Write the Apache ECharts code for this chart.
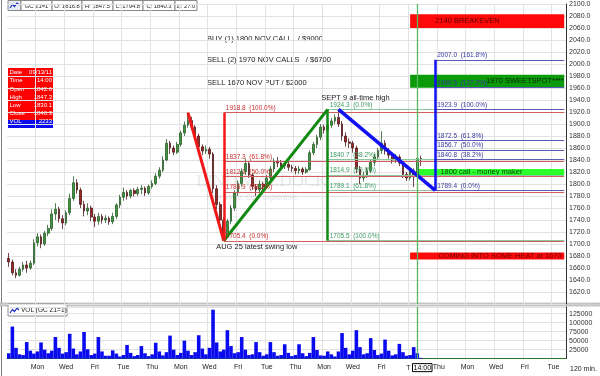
<!DOCTYPE html>
<html><head><meta charset="utf-8">
<script src="https://cdn.jsdelivr.net/npm/echarts@6/dist/echarts.min.js"></script>
<style>html,body{margin:0;padding:0;background:#fff}#c{width:600px;height:376px}</style>
</head><body><div id="c"></div>
<script>
// Day labels for every second trading day, from Mon Aug 8 onwards
const tickLabels = ['Mon','Wed','Fri','Tue','Thu','Mon','Wed','Fri','Tue','Thu','Mon','Wed','Fri','T','Thu','Mon','Wed','Fri','Tue'];
const barsPerDay = 4;
const leadDays = 2;      // Thu Aug 4 and Fri Aug 5 before the first labelled day
const totalDays = 39;    // through Tue Sep 27

// Gold Dec 2011 (GC Z1) bars: [open, close, low, high]
const ohlc = [
[1676,1670,1662,1685],[1670,1652,1648,1674],[1652,1648,1643,1658],[1648,1658,1646,1662],
[1658,1665,1654,1670],[1665,1660,1652,1672],[1660,1668,1657,1672],[1668,1702,1665,1708],
[1702,1712,1696,1718],[1712,1700,1693,1716],[1700,1718,1697,1722],[1718,1726,1713,1732],
[1726,1750,1722,1758],[1750,1758,1740,1768],[1758,1742,1736,1762],[1742,1735,1725,1748],
[1735,1752,1731,1756],[1752,1776,1748,1784],[1776,1802,1772,1813],[1802,1790,1784,1808],
[1790,1766,1760,1794],[1766,1755,1746,1772],[1755,1760,1748,1768],[1760,1745,1738,1764],
[1745,1738,1728,1750],[1738,1746,1732,1752],[1746,1740,1734,1750],[1740,1743,1735,1748],
[1743,1737,1732,1746],[1737,1746,1733,1752],[1746,1765,1742,1768],[1765,1778,1760,1782],
[1778,1786,1772,1794],[1786,1780,1774,1790],[1780,1789,1776,1792],[1789,1784,1779,1793],
[1784,1791,1780,1795],[1791,1793,1783,1798],[1793,1785,1780,1796],[1785,1796,1782,1799],
[1796,1801,1792,1806],[1801,1813,1798,1818],[1813,1823,1809,1828],[1823,1840,1820,1846],
[1840,1868,1838,1875],[1868,1860,1850,1872],[1860,1853,1848,1864],[1853,1866,1850,1870],
[1866,1885,1862,1889],[1885,1898,1880,1904],[1898,1906,1894,1918.8],[1906,1895,1890,1912],
[1895,1880,1874,1898],[1880,1862,1856,1884],[1862,1855,1848,1866],[1855,1858,1850,1864],
[1858,1850,1842,1862],[1850,1792,1785,1853],[1792,1766,1758,1798],[1766,1740,1733,1770],
[1740,1713,1705.4,1745],[1713,1738,1710,1742],[1738,1760,1733,1765],[1760,1785,1755,1790],
[1785,1801,1780,1806],[1801,1821,1796,1826],[1821,1834,1815,1842],[1834,1815,1810,1837],
[1815,1796,1790,1818],[1796,1790,1780,1800],[1790,1800,1785,1806],[1800,1795,1788,1804],
[1795,1810,1792,1815],[1810,1825,1806,1830],[1825,1838,1820,1843],[1838,1835,1828,1845],
[1835,1830,1824,1840],[1830,1833,1825,1838],[1833,1828,1822,1837],[1828,1826,1820,1832],
[1826,1822,1816,1830],[1822,1825,1817,1830],[1825,1820,1815,1828],[1820,1824,1817,1828],
[1824,1852,1822,1856],[1852,1866,1848,1870],[1866,1878,1860,1882],[1878,1895,1873,1900],
[1895,1890,1884,1899],[1890,1898,1886,1903],[1898,1905,1893,1910],[1905,1911,1900,1916],
[1911,1900,1895,1924.3],[1900,1880,1872,1905],[1880,1870,1862,1886],[1870,1868,1860,1876],
[1868,1860,1852,1872],[1860,1825,1818,1864],[1825,1810,1800,1830],[1810,1815,1804,1820],
[1815,1822,1810,1827],[1822,1836,1818,1840],[1836,1845,1830,1850],[1845,1856,1840,1860],
[1856,1868,1850,1888],[1868,1855,1849,1873],[1855,1848,1842,1860],[1848,1840,1834,1852],
[1840,1845,1835,1850],[1845,1835,1830,1849],[1835,1816,1810,1838],[1816,1810,1805,1820],
[1810,1822,1806,1826],[1822,1812,1794.8,1826],[1812,1842.6,1808,1846],[1842.6,1840.3,1830.1,1847.3]
];

const volume = [
15000,89000,30000,12000, 10000,46000,22000,14000, 20000,45000,25000,15000,
22000,60000,30000,14000, 18000,69000,28000,12000, 20000,74000,26000,10000,
14000,60000,20000,8000,  8000,23000,14000,6000,   10000,38000,16000,7000,
10000,35000,15000,7000,  12000,44000,20000,9000,  18000,64000,25000,10000,
16000,50000,22000,10000, 18000,65000,28000,12000, 30000,136000,45000,20000,
25000,79000,35000,15000, 18000,60000,25000,10000, 12000,46000,18000,8000,
12000,46000,18000,8000,  10000,40000,16000,7000,  10000,40000,15000,7000,
16000,60000,24000,9000,  8000,20000,12000,6000,   20000,71000,30000,12000,
22000,79000,32000,12000, 15000,57000,24000,10000, 14000,53000,22000,9000,
12000,41000,18000,8000,  10000,32000,15000,2233
];

// Fibonacci levels: [price, percent]
const redFib = [[1918.8,'100.0%'],[1837.3,'61.8%'],[1812.1,'50.0%'],[1786.9,'38.2%'],[1705.4,'0.0%']];
const greenFib = [[1924.3,'0.0%'],[1840.7,'38.2%'],[1814.9,'50.0%'],[1789.1,'61.8%'],[1705.5,'100.0%']];
const blueFib = [[2007.0,'161.8%'],[1960.5,'127.2%'],[1923.9,'100.0%'],[1872.5,'61.8%'],[1856.7,'50.0%'],[1840.8,'38.2%'],[1789.4,'0.0%']];

// Swing points: [bar index, price]
const redSwing = [[50,1918.8],[60,1705.4]];
const greenSwing = [[60,1705.5],[89,1924.3]];
const blueSwing = [[92,1924.3],[119,1789.4]];

// Target zones: [start bar, low, high, text]
const zones = [
  [112, 2060, 2083, '2140 BREAKEVEN'],
  [112, 1960.5, 1982, '1970 SWEETSPOT****'],
  [114, 1815, 1825, '1800 call - money maker'],
  [112, 1674, 1686, 'COMING INTO SOME HEAT at 1670']
];

const headerCells = ['GC Z1=1','O: 1816.8','H: 1847.5','L: 1794.8','C: 1840.3','\u0394: 27.0'];
const infoLabels = ['Date','Time','Open','High','Low','Close','VOL'];
const infoValues = ['09/13/11','14:00','1842.6','1847.3','1830.1','1840.3','2233'];
const tradeNotes = ['BUY (1) 1800 NOV CALL   / $9000','SELL (2) 1970 NOV CALLS   / $6700','SELL 1670 NOV PUT / $2000'];
const lastPrice = 1840.3, lastVol = 2233, nowBar = 114;
const priceRange = [1600, 2100], volRange = [0, 144000];

const FONT = '"Liberation Sans", Arial, sans-serif';
const nCat = totalDays * barsPerDay;
const lastCat = nCat - 1;
const categories = Array.from({length: nCat}, (_, i) => String(i));
const firstTick = leadDays * barsPerDay;
const isTick = (i) => i >= firstTick && (i - firstTick) % (2 * barsPerDay) === 0;

function levelLines(levels, startBar, labelColor, lineColor) {
  return levels.map(([v, pct]) => [
    {coord: [startBar, v], lineStyle: {color: lineColor, width: 1, type: 'solid'},
     label: {show: true, position: 'insideStartTop', formatter: v.toFixed(1) + '  (' + pct + ')',
             color: labelColor, fontSize: 6.5, fontFamily: FONT, distance: [2, 1]}},
    {coord: [lastCat, v]}
  ]);
}
function swingLine(sw, color, w) {
  return [{coord: sw[0], lineStyle: {color, width: w, type: 'solid'}, label: {show: false}}, {coord: sw[1]}];
}
function verticalLine(bar, a, b, color, w) {
  return [{coord: [bar, a], lineStyle: {color, width: w, type: 'solid'}, label: {show: false}}, {coord: [bar, b]}];
}

const zoneStyle = [
  {fill: '#ff0a0a', text: '#5a0000', off: 20},
  {fill: '#0a9a0a', text: '#002a00', off: 71},
  {fill: '#2bff2b', text: '#0a3a0a', off: 18},
  {fill: '#ff0a0a', text: '#6a0000', off: 23}
];

const NOW_COLOR = '#5cb85c';

const markLineData = [].concat(
  levelLines(redFib, redSwing[1][0], '#c83030', '#d06060'),
  levelLines(greenFib, greenSwing[1][0], '#3c9a60', '#8cc89c'),
  levelLines(blueFib, blueSwing[1][0], '#3838a0', '#5a5ab8'),
  [swingLine(redSwing, '#f01818', 3)],
  [swingLine(greenSwing, '#128a12', 3)],
  [swingLine(blueSwing, '#1010f0', 3.5)],
  [verticalLine(redSwing[1][0], redSwing[0][1], redSwing[1][1], '#f01818', 2.5)],
  [verticalLine(greenSwing[1][0], greenSwing[1][1], greenSwing[0][1], '#128a12', 2.5)],
  [verticalLine(blueSwing[1][0], blueSwing[1][1], blueFib[0][0], '#1010f0', 2.5)],
  [verticalLine(nowBar, priceRange[0], priceRange[1], NOW_COLOR, 1.3)],
  [[{coord: [ohlc.length - 1, lastPrice], lineStyle: {opacity: 0},
     label: {show: true, position: 'end', formatter: lastPrice.toFixed(1), backgroundColor: '#ff2020',
             color: '#ffe8e8', padding: [1, 3, 1, 3], fontSize: 7, fontFamily: FONT, distance: 2}},
    {coord: [lastCat, lastPrice]}]]
);

const markAreaData = zones.map((z, k) => [
  {coord: [z[0], z[2]], itemStyle: {color: zoneStyle[k].fill, opacity: 1},
   label: {show: true, position: 'insideLeft', formatter: z[3], color: zoneStyle[k].text,
           fontSize: 7.5, fontFamily: FONT, offset: [zoneStyle[k].off, 0]}},
  {coord: [lastCat, z[1]]}
]);

const gridLine = {show: true, lineStyle: {color: '#e2e2e2', width: 1}};

const graphics = [];
// frame
graphics.push({type: 'line', shape: {x1: 1.5, y1: 0, x2: 1.5, y2: 376}, style: {stroke: '#808080', lineWidth: 1}});
graphics.push({type: 'rect', shape: {x: 0, y: 303, width: 600, height: 3}, style: {fill: '#cfcfcf', stroke: '#a8a8a8', lineWidth: 0.6}});
// header strip
const headerWidths = [31, 30, 31, 30, 32, 22];
graphics.push({type: 'rect', shape: {x: 8, y: 0.5, width: 13, height: 10}, style: {fill: '#e6ecf6', stroke: '#888', lineWidth: 1}});
graphics.push({type: 'polyline', shape: {points: [[10,8],[12.5,4.5],[14.5,6.5],[17,3],[19.5,5]]}, style: {stroke: '#2030c0', lineWidth: 1.2, fill: null}});
let hx = 21;
headerCells.forEach((t, k) => {
  graphics.push({type: 'rect', shape: {x: hx, y: 0.5, width: headerWidths[k], height: 10}, style: {fill: '#fff', stroke: '#888', lineWidth: 1}});
  graphics.push({type: 'text', style: {text: t, x: hx + headerWidths[k] / 2, y: 6, align: 'center', verticalAlign: 'middle', fill: '#222', font: '5.8px ' + FONT}});
  hx += headerWidths[k];
});
// data window
graphics.push({type: 'rect', shape: {x: 8, y: 68, width: 45, height: 52}, style: {fill: '#ff0000'}});
graphics.push({type: 'rect', shape: {x: 8, y: 120, width: 45, height: 8}, style: {fill: '#0a0aee'}});
infoLabels.forEach((t, k) => {
  const y = 72.5 + k * 8.2;
  graphics.push({type: 'text', style: {text: t, x: 9.5, y, align: 'left', verticalAlign: 'middle', fill: '#fff', font: '6px ' + FONT}});
  graphics.push({type: 'text', style: {text: infoValues[k], x: 52, y, align: 'right', verticalAlign: 'middle', fill: '#fff', font: '6px ' + FONT}});
});
// trade notes
tradeNotes.forEach((t, k) => {
  graphics.push({type: 'text', style: {text: t, x: 207, y: [38.5, 59.5, 83][k], align: 'left', verticalAlign: 'middle', fill: '#222', font: '7.5px ' + FONT}});
});
// watermark
graphics.push({type: 'text', z: 1, style: {text: 'LIND-WALDOCK', x: 262, y: 182, align: 'center', verticalAlign: 'middle', fill: 'rgba(150,150,150,0.22)', font: '17px "Liberation Serif", serif'}});
graphics.push({type: 'text', z: 1, style: {text: 'Your Way. Our expertise.', x: 252, y: 198, align: 'center', verticalAlign: 'middle', fill: 'rgba(150,150,150,0.25)', font: 'italic 8.5px ' + FONT}});
// volume legend
graphics.push({type: 'rect', shape: {x: 8, y: 304, width: 59, height: 12}, style: {fill: '#fff', stroke: '#888', lineWidth: 1}});
graphics.push({type: 'polyline', shape: {points: [[10,313],[12.5,309.5],[14.5,311.5],[17,308],[19,310]]}, style: {stroke: '#2030c0', lineWidth: 1.2, fill: null}});
graphics.push({type: 'text', style: {text: 'VOL (GC Z1=1)', x: 21, y: 310.5, align: 'left', verticalAlign: 'middle', fill: '#222', font: '6.5px ' + FONT}});
graphics.push({type: 'text', style: {text: '120 min.', x: 570, y: 369, align: 'left', verticalAlign: 'middle', fill: '#222', font: '7px ' + FONT}});

const option = {
  animation: false,
  backgroundColor: '#fff',
  textStyle: {fontFamily: FONT},
  grid: [
    {left: 7, right: 34, top: 4, height: 300, outerBoundsMode: 'none', containLabel: false},
    {left: 7, right: 34, top: 306.8, height: 51.84, outerBoundsMode: 'none', containLabel: false}
  ],
  xAxis: [
    {type: 'category', gridIndex: 0, data: categories, boundaryGap: true,
     axisLine: {show: false}, axisTick: {show: false}, axisLabel: {show: false},
     splitLine: Object.assign({interval: (i) => isTick(i)}, gridLine)},
    {type: 'category', gridIndex: 1, data: categories, boundaryGap: true,
     axisLine: {show: true, lineStyle: {color: '#2a7a2a', width: 1}}, axisTick: {show: false},
     splitLine: Object.assign({interval: (i) => isTick(i)}, gridLine),
     axisLabel: {
       show: true, interval: (i) => isTick(i), margin: 5, fontSize: 7, color: '#222', fontFamily: FONT,
       formatter: (v, i) => {
         const t = tickLabels[(i - firstTick) / (2 * barsPerDay)];
         return t === 'T' ? '{p|}{t|T}{b|14:00}' : t;
       },
       rich: {
         p: {width: 18},
         t: {fontSize: 7, color: '#222', padding: [0, 2, 0, 0]},
         b: {fontSize: 7, color: '#000', borderColor: '#000', borderWidth: 1, padding: [1, 1, 0, 1]}
       }
     }}
  ],
  yAxis: [
    {type: 'value', gridIndex: 0, position: 'right', min: priceRange[0], max: priceRange[1], interval: 20,
     axisLine: {show: true, lineStyle: {color: '#333'}}, axisTick: {show: false},
     axisLabel: {margin: 3, fontSize: 7, color: '#333', showMinLabel: false, formatter: (v) => v.toFixed(1)},
     splitLine: gridLine},
    {type: 'value', gridIndex: 1, position: 'right', min: volRange[0], max: volRange[1], interval: 25000,
     axisLine: {show: true, lineStyle: {color: '#333'}}, axisTick: {show: false},
     axisLabel: {margin: 3, fontSize: 7, color: '#333', showMinLabel: false, showMaxLabel: false, formatter: (v) => String(v)},
     splitLine: gridLine}
  ],
  series: [
    {type: 'candlestick', xAxisIndex: 0, yAxisIndex: 0, data: ohlc, barWidth: 2.2, clip: false,
     itemStyle: {color: '#3c9a3c', color0: '#9a2626', borderColor: '#2c5a2c', borderColor0: '#4e1a1a', borderWidth: 0.8},
     markArea: {silent: true, z: 1, data: markAreaData},
     markLine: {silent: true, symbol: ['none', 'none'], animation: false, data: markLineData},
     markPoint: {silent: true, symbol: 'circle', symbolSize: 1, itemStyle: {color: 'rgba(0,0,0,0)'},
       data: [
         {coord: [greenSwing[1][0] + 3, 1924.3], label: {show: true, position: 'top', formatter: 'SEPT 9 all-time high', color: '#222', fontSize: 7.5, fontFamily: FONT, offset: [17, -2]}},
         {coord: [redSwing[1][0], 1705.4], label: {show: true, position: 'bottom', formatter: 'AUG 25 latest swing low', color: '#222', fontSize: 7.5, fontFamily: FONT, offset: [33, -3]}}
       ]}
    },
    {type: 'bar', xAxisIndex: 1, yAxisIndex: 1, data: volume, barWidth: '100%', clip: false,
     itemStyle: {color: '#0a0aee'},
     markLine: {silent: true, symbol: ['none', 'none'], animation: false,
       data: [
         verticalLine(nowBar, volRange[0], volRange[1], NOW_COLOR, 1.3),
         [{coord: [ohlc.length - 1, lastVol], lineStyle: {opacity: 0},
           label: {show: true, position: 'end', formatter: String(lastVol), backgroundColor: '#1010ee', color: '#fff', padding: [1, 3, 0, 14], fontSize: 7, fontFamily: FONT, distance: 2}},
          {coord: [lastCat, lastVol]}]
       ]}
    }
  ],
  graphic: graphics
};

const chart = echarts.init(document.getElementById('c'));
chart.setOption(option);
</script>
</body></html>
